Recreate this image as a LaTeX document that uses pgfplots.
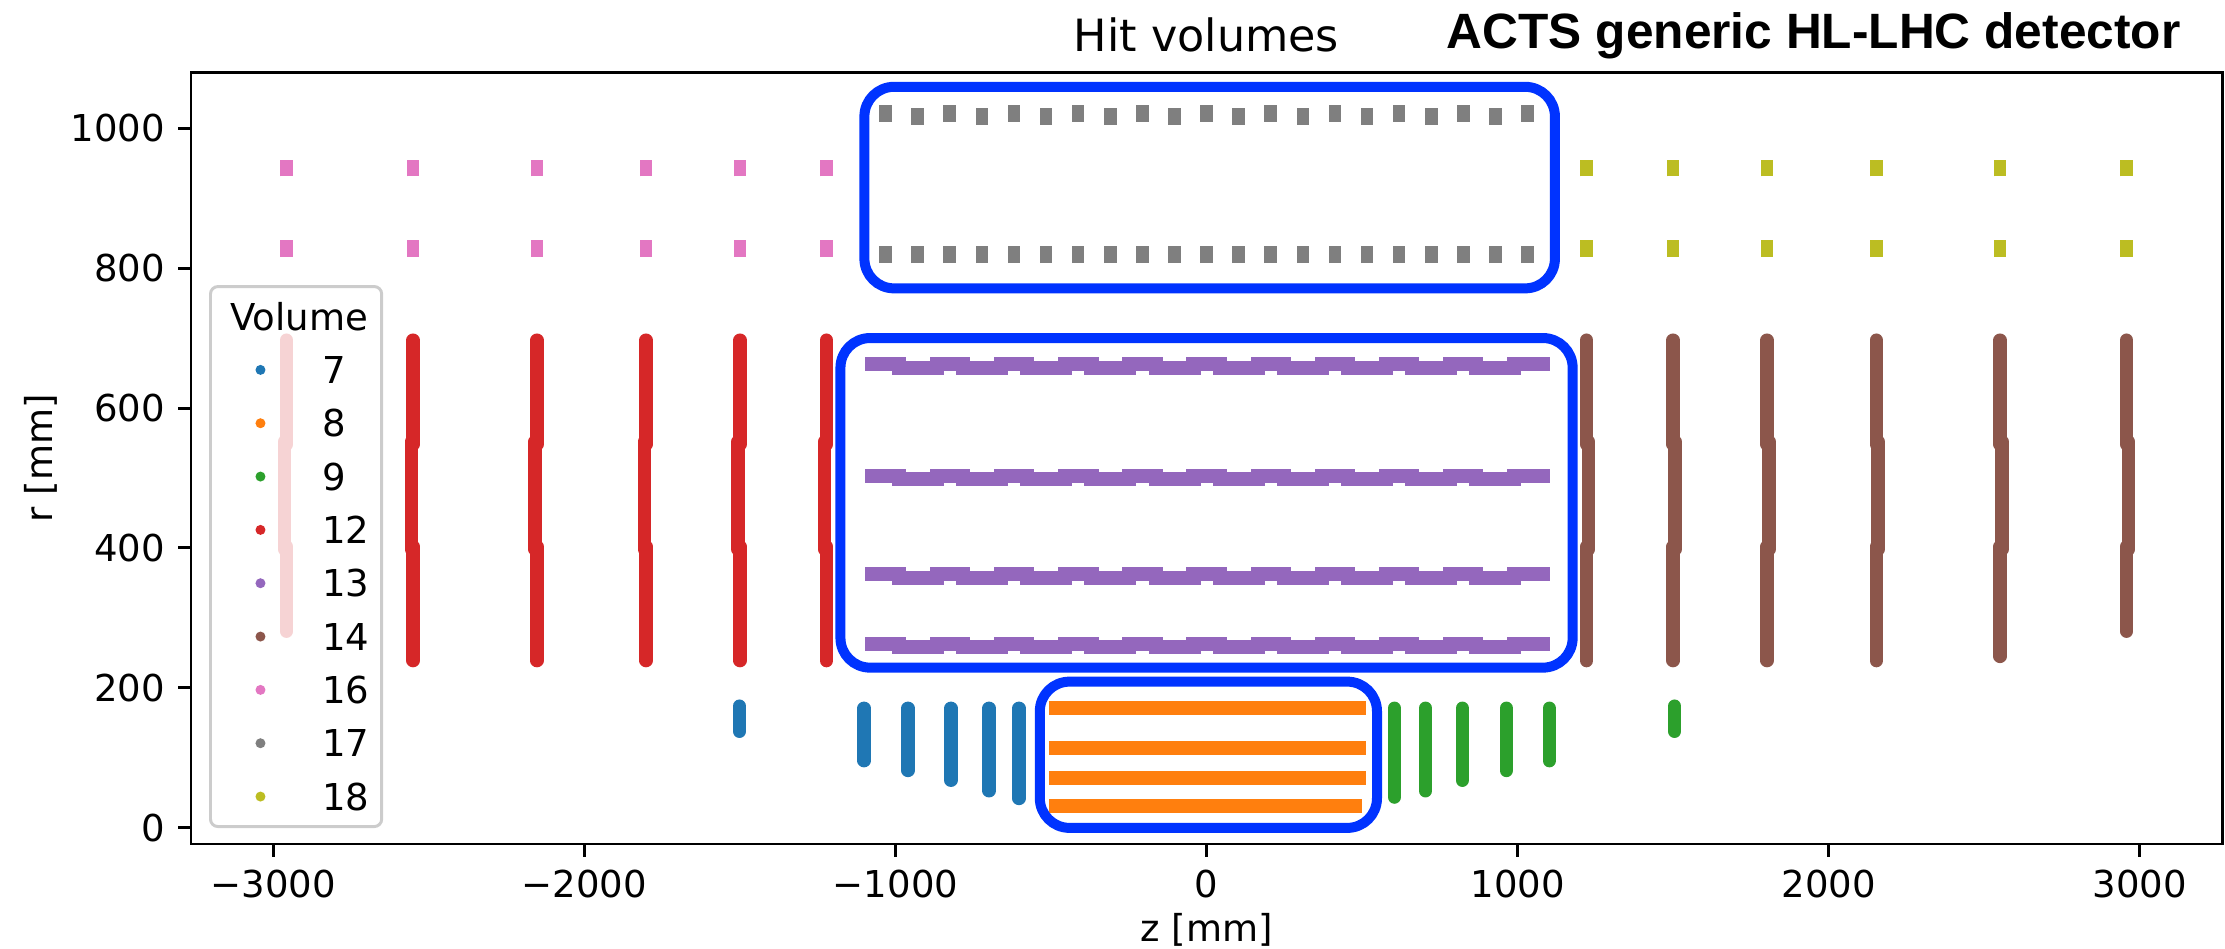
\documentclass[border=0pt]{standalone}
\usepackage{fontspec}
\setmainfont{DejaVu Sans}
\newfontfamily\actsfont{Liberation Sans}
\usepackage{pgfplots}
\pgfplotsset{compat=1.18}

% matplotlib tab10
\definecolor{c7}{HTML}{1F77B4}
\definecolor{c8}{HTML}{FF7F0E}
\definecolor{c9}{HTML}{2CA02C}
\definecolor{c12}{HTML}{D62728}
\definecolor{c13}{HTML}{9467BD}
\definecolor{c14}{HTML}{8C564B}
\definecolor{c16}{HTML}{E377C2}
\definecolor{c17}{HTML}{7F7F7F}
\definecolor{c18}{HTML}{BCBD22}
\definecolor{hl}{RGB}{0,51,255}

\pgfplotsset{
  vol legend/.style={legend image code/.code={
      \path[draw=none, fill=none, line width=0pt] (-10.2pt,-7.2pt) rectangle (16.7pt,7.2pt);
      \fill[draw=none, fill opacity=1] (0pt,0pt) circle (1.35pt);}},
  disk/.style={line width=3.6pt, line cap=round, vol legend, unbounded coords=jump},
  bar/.style={line width=3.8pt, line cap=butt, line join=miter, vol legend, unbounded coords=jump},
  pad/.style={line width=3.4pt, line cap=butt, vol legend, unbounded coords=jump},
}

\begin{document}
\begin{tikzpicture}
\begin{axis}[
  scale only axis, width=548.4pt, height=208.4pt,
  xmin=-3265, xmax=3265, ymin=-23, ymax=1080,
  clip=false,
  axis line style={line width=0.8pt},
  every tick/.style={black, line width=0.8pt},
  major tick length=3.5pt,
  tick align=outside, xtick pos=bottom, ytick pos=left,
  xtick={-3000,-2000,-1000,0,1000,2000,3000},
  xticklabels={−3000,−2000,−1000,0,1000,2000,3000},
  ytick={0,200,400,600,800,1000},
  yticklabels={0,200,400,600,800,1000},
  ticklabel style={font=\fontsize{10}{12}\selectfont},
  every axis title shift=0pt,
  title={Hit volumes},
  title style={font=\fontsize{12}{14}\selectfont, at={(axis description cs:0.5,1.02735)}, anchor=base},
  xlabel={z [mm]},
  xlabel style={font=\fontsize{10}{12}\selectfont, at={(axis description cs:0.5,-0.1113)}, anchor=center},
  ylabel={r [mm]},
  ylabel style={font=\fontsize{10}{12}\selectfont, at={(axis description cs:-0.0739,0.5)}, anchor=center},
  legend cell align=left,
  legend style={at={(rel axis cs:0.00886,0.7241)}, anchor=north west,
    draw=black!20, line width=0.8pt, rounded corners=2pt,
    fill=white, fill opacity=0.8, text opacity=1,
    inner xsep=3.3pt, inner ysep=0.9pt, column sep=0pt, row sep=0pt,
    nodes={inner sep=0pt, text height=7.3pt, text depth=0pt, anchor=west},
    font=\fontsize{10}{12}\selectfont},
]

% legend title
\addlegendimage{legend image code/.code={
    \path[draw=none, fill=none, line width=0pt] (-10.2pt,-7.2pt) rectangle (16.7pt,7.2pt);
    \node[overlay, draw=none, fill=none, anchor=west, inner sep=0pt, text height=7.3pt, text depth=0pt, text opacity=1]
      at (-8.6pt,0pt) {Volume};}}
\addlegendentry{}

% volume 7: pixel endcap (negative z)
\addplot[disk, c7] coordinates {
  (-1502,138) (-1502,174) (0,nan)
  (-1101,96) (-1101,171) (0,nan)
  (-960,82) (-960,171) (0,nan)
  (-822,68) (-822,171) (0,nan)
  (-699,53) (-699,171) (0,nan)
  (-603,42) (-603,171)
};
\addlegendentry{7}

% volume 8: pixel barrel
\addplot[bar, c8] coordinates {
  (-507,171) (514,171) (0,nan)
  (-507,114) (514,114) (0,nan)
  (-507,71.5) (514,71.5) (0,nan)
  (-505,31) (500,31)
};
\addlegendentry{8}

% volume 9: pixel endcap (positive z)
\addplot[disk, c9] coordinates {
  (1505,138) (1505,174) (0,nan)
  (1102,96) (1102,171) (0,nan)
  (964,82) (964,171) (0,nan)
  (822,68) (822,171) (0,nan)
  (704,53) (704,171) (0,nan)
  (604,44) (604,171)
};
\addlegendentry{9}

% volume 12: short strip endcap (negative z)
\addplot[disk, c12] coordinates {
  (-2958,548) (-2958,697) (0,nan) (-2964,398) (-2964,552) (0,nan) (-2958,281) (-2958,402) (0,nan)
  (-2551,548) (-2551,697) (0,nan) (-2557,398) (-2557,552) (0,nan) (-2551,239) (-2551,402) (0,nan)
  (-2153,548) (-2153,697) (0,nan) (-2159,398) (-2159,552) (0,nan) (-2153,239) (-2153,402) (0,nan)
  (-1802,548) (-1802,697) (0,nan) (-1808,398) (-1808,552) (0,nan) (-1802,239) (-1802,402) (0,nan)
  (-1500,548) (-1500,697) (0,nan) (-1506,398) (-1506,552) (0,nan) (-1500,239) (-1500,402) (0,nan)
  (-1222,548) (-1222,697) (0,nan) (-1228,398) (-1228,552) (0,nan) (-1222,239) (-1222,402)
};
\addlegendentry{12}

% volume 13: short strip barrel
\addplot[bar, c13] coordinates {
  (-1098,662.4) (-989,662.4) (-989,657.6) (-867,657.6) (-867,662.4) (-783,662.4) (-783,657.6) (-661,657.6)
  (-661,662.4) (-576,662.4) (-576,657.6) (-454,657.6) (-454,662.4) (-370,662.4) (-370,657.6) (-248,657.6)
  (-248,662.4) (-164,662.4) (-164,657.6) (-42,657.6) (-42,662.4) (42,662.4) (42,657.6) (164,657.6)
  (164,662.4) (248,662.4) (248,657.6) (370,657.6) (370,662.4) (454,662.4) (454,657.6) (576,657.6)
  (576,662.4) (661,662.4) (661,657.6) (783,657.6) (783,662.4) (867,662.4) (867,657.6) (989,657.6)
  (989,662.4) (1104,662.4) (0,nan)
  (-1098,503.4) (-989,503.4) (-989,498.6) (-867,498.6) (-867,503.4) (-783,503.4) (-783,498.6) (-661,498.6)
  (-661,503.4) (-576,503.4) (-576,498.6) (-454,498.6) (-454,503.4) (-370,503.4) (-370,498.6) (-248,498.6)
  (-248,503.4) (-164,503.4) (-164,498.6) (-42,498.6) (-42,503.4) (42,503.4) (42,498.6) (164,498.6)
  (164,503.4) (248,503.4) (248,498.6) (370,498.6) (370,503.4) (454,503.4) (454,498.6) (576,498.6)
  (576,503.4) (661,503.4) (661,498.6) (783,498.6) (783,503.4) (867,503.4) (867,498.6) (989,498.6)
  (989,503.4) (1104,503.4) (0,nan)
  (-1098,362.4) (-989,362.4) (-989,357.6) (-867,357.6) (-867,362.4) (-783,362.4) (-783,357.6) (-661,357.6)
  (-661,362.4) (-576,362.4) (-576,357.6) (-454,357.6) (-454,362.4) (-370,362.4) (-370,357.6) (-248,357.6)
  (-248,362.4) (-164,362.4) (-164,357.6) (-42,357.6) (-42,362.4) (42,362.4) (42,357.6) (164,357.6)
  (164,362.4) (248,362.4) (248,357.6) (370,357.6) (370,362.4) (454,362.4) (454,357.6) (576,357.6)
  (576,362.4) (661,362.4) (661,357.6) (783,357.6) (783,362.4) (867,362.4) (867,357.6) (989,357.6)
  (989,362.4) (1104,362.4) (0,nan)
  (-1098,263.4) (-989,263.4) (-989,258.6) (-867,258.6) (-867,263.4) (-783,263.4) (-783,258.6) (-661,258.6)
  (-661,263.4) (-576,263.4) (-576,258.6) (-454,258.6) (-454,263.4) (-370,263.4) (-370,258.6) (-248,258.6)
  (-248,263.4) (-164,263.4) (-164,258.6) (-42,258.6) (-42,263.4) (42,263.4) (42,258.6) (164,258.6)
  (164,263.4) (248,263.4) (248,258.6) (370,258.6) (370,263.4) (454,263.4) (454,258.6) (576,258.6)
  (576,263.4) (661,263.4) (661,258.6) (783,258.6) (783,263.4) (867,263.4) (867,258.6) (989,258.6)
  (989,263.4) (1104,263.4)
};
\addlegendentry{13}

% volume 14: short strip endcap (positive z)
\addplot[disk, c14] coordinates {
  (1222,548) (1222,697) (0,nan) (1228,398) (1228,552) (0,nan) (1222,239) (1222,402) (0,nan)
  (1500,548) (1500,697) (0,nan) (1506,398) (1506,552) (0,nan) (1500,239) (1500,402) (0,nan)
  (1802,548) (1802,697) (0,nan) (1808,398) (1808,552) (0,nan) (1802,239) (1802,402) (0,nan)
  (2153,548) (2153,697) (0,nan) (2159,398) (2159,552) (0,nan) (2153,239) (2153,402) (0,nan)
  (2551,548) (2551,697) (0,nan) (2557,398) (2557,552) (0,nan) (2551,245) (2551,402) (0,nan)
  (2958,548) (2958,697) (0,nan) (2964,398) (2964,552) (0,nan) (2958,281) (2958,402)
};
\addlegendentry{14}

% volume 16: long strip endcap (negative z)
\addplot[pad, c16] coordinates {
  (-2958,931) (-2958,955) (0,nan) (-2958,816) (-2958,840) (0,nan)
  (-2551,931) (-2551,955) (0,nan) (-2551,816) (-2551,840) (0,nan)
  (-2153,931) (-2153,955) (0,nan) (-2153,816) (-2153,840) (0,nan)
  (-1802,931) (-1802,955) (0,nan) (-1802,816) (-1802,840) (0,nan)
  (-1500,931) (-1500,955) (0,nan) (-1500,816) (-1500,840) (0,nan)
  (-1222,931) (-1222,955) (0,nan) (-1222,816) (-1222,840)
};
\addlegendentry{16}

% volume 17: long strip barrel
\addplot[pad, c17] coordinates {
  (-1032,1009) (-1032,1033) (0,nan) (-928.8,1005) (-928.8,1029) (0,nan)
  (-825.6,1009) (-825.6,1033) (0,nan) (-722.4,1005) (-722.4,1029) (0,nan)
  (-619.2,1009) (-619.2,1033) (0,nan) (-516,1005) (-516,1029) (0,nan)
  (-412.8,1009) (-412.8,1033) (0,nan) (-309.6,1005) (-309.6,1029) (0,nan)
  (-206.4,1009) (-206.4,1033) (0,nan) (-103.2,1005) (-103.2,1029) (0,nan)
  (0,1009) (0,1033) (0,nan) (103.2,1005) (103.2,1029) (0,nan)
  (206.4,1009) (206.4,1033) (0,nan) (309.6,1005) (309.6,1029) (0,nan)
  (412.8,1009) (412.8,1033) (0,nan) (516,1005) (516,1029) (0,nan)
  (619.2,1009) (619.2,1033) (0,nan) (722.4,1005) (722.4,1029) (0,nan)
  (825.6,1009) (825.6,1033) (0,nan) (928.8,1005) (928.8,1029) (0,nan)
  (1032,1009) (1032,1033) (0,nan)
  (-1032,807) (-1032,831) (0,nan) (-928.8,807) (-928.8,831) (0,nan)
  (-825.6,807) (-825.6,831) (0,nan) (-722.4,807) (-722.4,831) (0,nan)
  (-619.2,807) (-619.2,831) (0,nan) (-516,807) (-516,831) (0,nan)
  (-412.8,807) (-412.8,831) (0,nan) (-309.6,807) (-309.6,831) (0,nan)
  (-206.4,807) (-206.4,831) (0,nan) (-103.2,807) (-103.2,831) (0,nan)
  (0,807) (0,831) (0,nan) (103.2,807) (103.2,831) (0,nan)
  (206.4,807) (206.4,831) (0,nan) (309.6,807) (309.6,831) (0,nan)
  (412.8,807) (412.8,831) (0,nan) (516,807) (516,831) (0,nan)
  (619.2,807) (619.2,831) (0,nan) (722.4,807) (722.4,831) (0,nan)
  (825.6,807) (825.6,831) (0,nan) (928.8,807) (928.8,831) (0,nan)
  (1032,807) (1032,831)
};
\addlegendentry{17}

% volume 18: long strip endcap (positive z)
\addplot[pad, c18] coordinates {
  (2958,931) (2958,955) (0,nan) (2958,816) (2958,840) (0,nan)
  (2551,931) (2551,955) (0,nan) (2551,816) (2551,840) (0,nan)
  (2153,931) (2153,955) (0,nan) (2153,816) (2153,840) (0,nan)
  (1802,931) (1802,955) (0,nan) (1802,816) (1802,840) (0,nan)
  (1500,931) (1500,955) (0,nan) (1500,816) (1500,840) (0,nan)
  (1222,931) (1222,955) (0,nan) (1222,816) (1222,840)
};
\addlegendentry{18}

% highlight boxes
\draw[hl, line width=2.7pt, rounded corners=8pt] (axis cs:-1100,771) rectangle (axis cs:1120,1059);
\draw[hl, line width=2.7pt, rounded corners=8pt] (axis cs:-1177,229) rectangle (axis cs:1177,700);
\draw[hl, line width=2.7pt, rounded corners=8pt] (axis cs:-536,0) rectangle (axis cs:548,209);

\node[anchor=base west, inner sep=0pt, font=\actsfont\bfseries\fontsize{13.4}{16}\selectfont]
  at (rel axis cs:0.618,1.0312) {ACTS generic HL-LHC detector};
\end{axis}
\pgfresetboundingbox
\path (current axis.south west) ++(-51.57pt,-28.35pt) rectangle ++(600.75pt,256.23pt);
\end{tikzpicture}
\end{document}
